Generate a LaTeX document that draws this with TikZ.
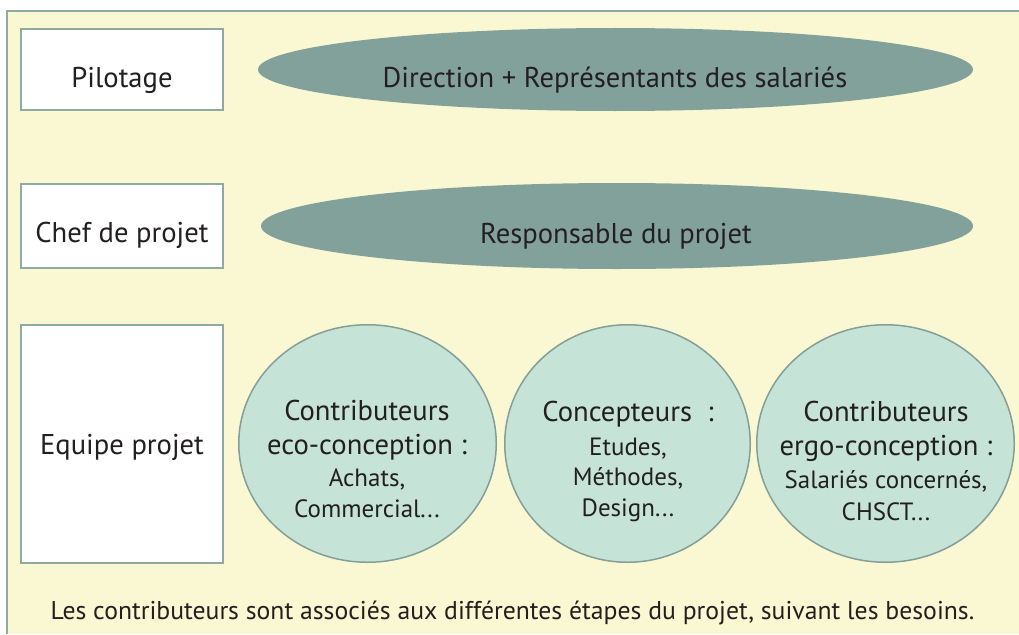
\documentclass[tikz,border=0pt]{standalone}
\usepackage{fontspec}
\setmainfont{PT Sans}
\usetikzlibrary{shapes.geometric}
\definecolor{fond}{HTML}{FAF8D2}
\definecolor{cadre}{HTML}{90AAA1}
\definecolor{ovale}{HTML}{82A19B}
\definecolor{bulle}{HTML}{C5E3D7}
\definecolor{bord}{HTML}{859E98}
\definecolor{texte}{HTML}{231F20}
\newcommand{\petit}{\fontsize{25}{31}\selectfont}

\begin{document}
\begin{tikzpicture}[x=1pt, y=-1pt, text=texte,
        rolebox/.style={draw=cadre, line width=2pt, fill=white, minimum width=202pt, inner sep=0pt},
        ovalbox/.style={ellipse, fill=ovale, inner sep=0pt},
        bubble/.style={ellipse, draw=bord, line width=1.5pt, fill=bulle, inner sep=0pt, minimum height=237.5pt},
        label/.style={inner sep=0pt, anchor=base, font=\fontsize{28.6}{34}\selectfont},
        bubbletext/.style={inner sep=0pt, align=center, font=\fontsize{28.6}{34}\selectfont}]
        \useasboundingbox (0,0) rectangle (1019,634);
        \fill[fond] (7,11) rectangle (1019,634);
        \draw[cadre, line width=2pt] (7,634) -- (7,11) -- (1019,11);

        % colonne de gauche
        \node[rolebox, minimum height=81pt] (pil) at (122, 69.5) {};
        \node[rolebox, minimum height=84pt] (chef) at (122, 226) {};
        \node[rolebox, minimum height=238pt] (equ) at (122, 444) {};
        \node[label] (pil-t) at (122, 87) {Pilotage};
        \node[label] (chef-t) at (122, 242.5) {Chef de projet};
        \node[label] (equ-t) at (122, 454) {Equipe projet};

        % ovales
        \node[ovalbox, minimum width=715pt, minimum height=83pt] (dir) at (615.5, 69.5) {};
        \node[ovalbox, minimum width=712pt, minimum height=86pt] (resp) at (617, 226) {};
        \node[label] (dir-t) at (615, 87) {Direction + Représentants des salariés};
        \node[label] (resp-t) at (616, 243) {Responsable du projet};

        % bulles
        \node[bubble, minimum width=257.5pt] (eco) at (367.5, 443.5) {};
        \node[bubble, minimum width=245.5pt] (conc) at (627.5, 443.5) {};
        \node[bubble, minimum width=257.5pt] (ergo) at (885.5, 443.5) {};
        \node[bubbletext] (eco-t) at (367, 459) {Contributeurs\\eco-conception :\\[-2pt]{\petit Achats,}\\[-3pt]{\petit Commercial...}};
        \node[bubbletext] (conc-t) at (628, 461.5) {Concepteurs \ :\\[0pt]{\petit Etudes,}\\[-4pt]{\petit Méthodes,}\\[-3pt]{\petit Design...}};
        \node[bubbletext] (ergo-t) at (886, 461) {Contributeurs\\ergo-conception :\\[-1pt]{\petit Salariés concernés,}\\[-2pt]{\petit CHSCT...}};

        \node[label, font=\fontsize{25.7}{30}\selectfont] (note) at (512.5, 619) {Les contributeurs sont associés aux différentes étapes du projet, suivant les besoins.};
    \end{tikzpicture}
\end{document}
